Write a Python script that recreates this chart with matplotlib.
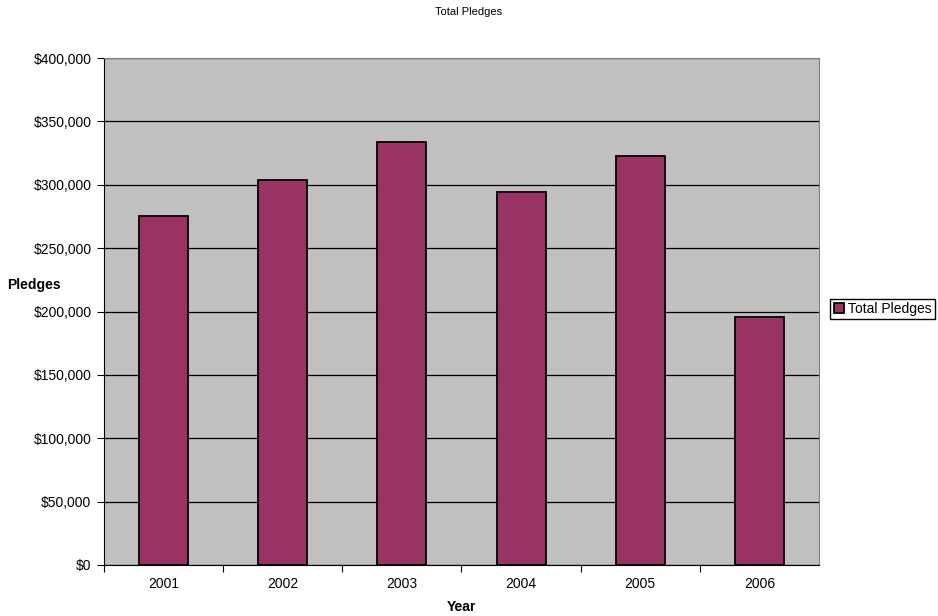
import matplotlib.pyplot as plt
from matplotlib.ticker import FuncFormatter

years = ['2001', '2002', '2003', '2004', '2005', '2006']
pledges = [275000, 304000, 334000, 294000, 323000, 196000]
yticks = [0, 50000, 100000, 150000, 200000, 250000, 300000, 350000, 400000]

plt.rcParams['font.family'] = ['Liberation Sans', 'DejaVu Sans']

fig = plt.figure(figsize=(9.38, 6.16), dpi=100)
ax = fig.add_axes([0.1109, 0.0828, 0.7622, 0.8230])
ax.set_facecolor('#C0C0C0')

x = list(range(len(years)))
bars = ax.bar(x, pledges, width=0.41, color='#993366', edgecolor='black',
              linewidth=1.3, label='Total Pledges', zorder=3)

ax.set_xlim(-0.5, len(years) - 0.5)
ax.set_ylim(0, 400000)
ax.set_yticks(yticks)
ax.yaxis.set_major_formatter(FuncFormatter(lambda v, p: '${:,.0f}'.format(v)))
ax.yaxis.grid(True, color='black', linewidth=0.9, zorder=1)

# category labels centred, ticks at the boundaries
ax.set_xticks([i + 0.5 for i in x[:-1]] + [-0.5])
ax.set_xticklabels([])
ax.set_xticks(x, minor=True)
ax.set_xticklabels(years, minor=True)
ax.tick_params(axis='x', which='minor', length=0, labelsize=10, pad=9)
ax.tick_params(axis='x', which='major', length=5, direction='out', color='black')
ax.tick_params(axis='y', length=5, direction='out', labelsize=10, pad=4)

for s in ['top', 'right']:
    ax.spines[s].set_color('#808080')
for s in ['left', 'bottom']:
    ax.spines[s].set_color('black')

fig.text(0.5, 0.981, 'Total Pledges', ha='center', va='center', fontsize=8)
fig.text(0.036, 0.537, 'Pledges', ha='center', va='center', fontsize=10, fontweight='bold')
fig.text(0.4925, 0.015, 'Year', ha='center', va='center', fontsize=10, fontweight='bold')

ax.legend(loc='center left', bbox_to_anchor=(1.016, 0.505), fontsize=10,
          frameon=True, fancybox=False, edgecolor='black', framealpha=1,
          handlelength=0.7, handleheight=0.7, handletextpad=0.3,
          borderpad=0.25, borderaxespad=0)

fig.savefig('out.png', dpi=100)
